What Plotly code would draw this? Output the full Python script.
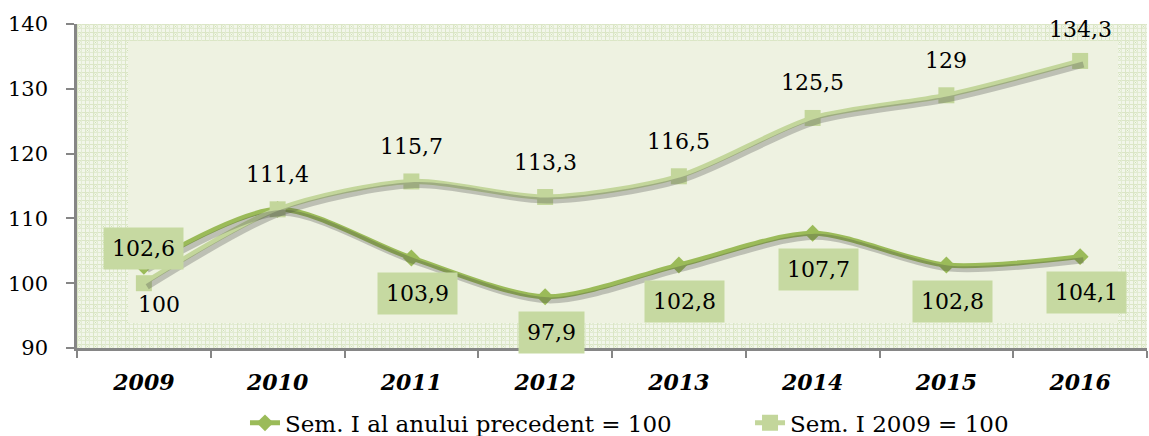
import base64
import plotly.graph_objects as go

years = ["2009", "2010", "2011", "2012", "2013", "2014", "2015", "2016"]
prev_year = [102.6, 111.4, 103.9, 97.9, 102.8, 107.7, 102.8, 104.1]
base_2009 = [100, 111.4, 115.7, 113.3, 116.5, 125.5, 129, 134.3]
prev_labels = ["102,6", "", "103,9", "97,9", "102,8", "107,7", "102,8", "104,1"]
base_labels = ["100", "111,4", "115,7", "113,3", "116,5", "125,5", "129", "134,3"]
name_prev = "Sem. I al anului precedent = 100"
name_base = "Sem. I 2009 = 100"

DARK = "#9bbb59"
LIGHT = "#c3d69b"
BOX = "#c6d9a1"
FONT = "DejaVu Serif"

W, H = 1070, 324
svg = f'''<svg xmlns="http://www.w3.org/2000/svg" width="{W}" height="{H}" viewBox="0 0 {W} {H}" preserveAspectRatio="none">
<defs><pattern id="p" width="8" height="8" patternUnits="userSpaceOnUse">
<rect width="8" height="8" fill="#f2f6ea"/>
<rect x="0" y="0" width="8" height="1" fill="#dbe6c6"/>
<rect x="0" y="4" width="8" height="1" fill="#e2ebd2"/>
<rect x="0" y="0" width="1" height="8" fill="#dbe6c6"/>
<rect x="4" y="0" width="1" height="8" fill="#e2ebd2"/>
<path d="M1.5 1.5 L3.5 3.5 M3.5 1.5 L1.5 3.5" stroke="#cfdfb2" stroke-width="0.8"/>
</pattern></defs>
<rect width="{W}" height="{H}" fill="url(#p)"/>
<rect x="51" y="17" width="990" height="282" fill="#eef2e1"/>
</svg>'''
src = "data:image/svg+xml;base64," + base64.b64encode(svg.encode()).decode()

# shadow offset expressed as small axis-range shifts (about 3-4 px)
DX = 0.025
DY = 0.55

fig = go.Figure()

for vals in (prev_year, base_2009):
    fig.add_trace(go.Scatter(x=years, y=vals, mode="lines",
                             line=dict(color="rgba(60,60,60,0.27)", width=6, shape="spline", smoothing=0.8),
                             showlegend=False, hoverinfo="skip", xaxis="x2", yaxis="y2"))

fig.add_trace(go.Scatter(x=years, y=prev_year, name=name_prev, mode="lines+markers",
                         line=dict(color=DARK, width=5, shape="spline", smoothing=0.8),
                         marker=dict(symbol="diamond", size=13, color=DARK), legend="legend"))
fig.add_trace(go.Scatter(x=years, y=base_2009, name=name_base, mode="lines+markers",
                         line=dict(color=LIGHT, width=5, shape="spline", smoothing=0.8),
                         marker=dict(symbol="square", size=16, color=LIGHT), legend="legend2"))

ann = []
for i, (v, t) in enumerate(zip(prev_year, prev_labels)):
    if not t:
        continue
    xs, ys = (0, 18) if i == 0 else (6, -36)
    ann.append(dict(x=i, y=v, xref="x", yref="y", text=t, showarrow=False, xshift=xs, yshift=ys,
                    bgcolor=BOX, borderpad=8, font=dict(family=FONT, size=22, color="#000")))
for i, (v, t) in enumerate(zip(base_2009, base_labels)):
    if i == 0:
        xs, ys = 15, -21
    elif i == 7:
        xs, ys = 0, 31
    else:
        xs, ys = 0, 35
    ann.append(dict(x=i, y=v, xref="x", yref="y", text=t, showarrow=False, xshift=xs, yshift=ys,
                    font=dict(family=FONT, size=22, color="#000")))

leg_common = dict(orientation="h", xanchor="left", yref="container", y=0.03, yanchor="middle",
                  font=dict(family=FONT, size=23, color="#000"), bgcolor="rgba(0,0,0,0)")

fig.update_layout(
    width=1149, height=436,
    margin=dict(l=77, r=2, t=24, b=88),
    paper_bgcolor="white", plot_bgcolor="white",
    font=dict(family=FONT, size=21, color="#000"),
    xaxis=dict(type="category", range=[-0.5, 7.5], tickson="boundaries", ticks="outside", ticklen=7,
               tickwidth=2, tickcolor="#868686", showline=True, linecolor="#868686", linewidth=2.5,
               showgrid=False, zeroline=False, automargin=False, ticklabelstandoff=13,
               tickfont=dict(family=FONT, size=22, weight="bold", style="italic", color="#000")),
    yaxis=dict(range=[90, 140], dtick=10, ticks="outside", ticklen=8, tickwidth=2, tickcolor="#868686",
               showline=True, linecolor="#868686", linewidth=2.5, showgrid=False, zeroline=False,
               automargin=False, ticklabelstandoff=14, tickfont=dict(family=FONT, size=21, color="#000")),
    xaxis2=dict(type="category", overlaying="x", range=[-0.5 - DX, 7.5 - DX], showticklabels=False,
                showline=False, ticks="", showgrid=False, zeroline=False, anchor="y2"),
    yaxis2=dict(overlaying="y", range=[90 + DY, 140 + DY], showticklabels=False, showline=False, ticks="",
                showgrid=False, zeroline=False, anchor="x2"),
    legend=dict(x=0.157, **leg_common),
    legend2=dict(x=0.629, **leg_common),
    annotations=ann,
    images=[dict(source=src, xref="paper", yref="paper", x=0, y=1, sizex=1, sizey=1, sizing="stretch",
                 layer="below", xanchor="left", yanchor="top")],
)

fig.write_html("out.html", config={"displayModeBar": False},
               post_script="document.body.style.margin='0';")
